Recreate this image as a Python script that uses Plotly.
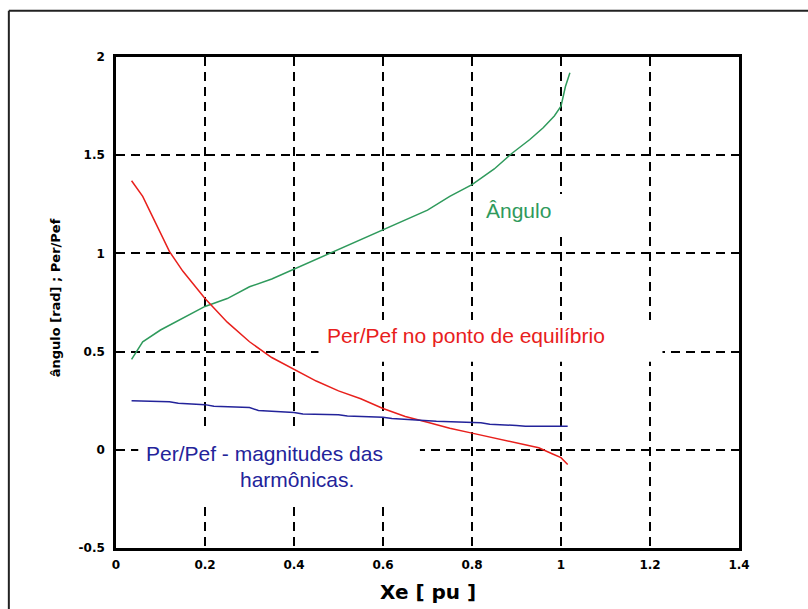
import plotly.graph_objects as go

# Ângulo (rad) versus Xe
angulo_x = [0.035, 0.06, 0.1, 0.15, 0.2, 0.25, 0.3, 0.35, 0.4, 0.45, 0.5, 0.55,
            0.6, 0.65, 0.7, 0.75, 0.8, 0.85, 0.89, 0.93, 0.96, 0.985, 1.0, 1.01, 1.02]
angulo_y = [0.46, 0.55, 0.61, 0.67, 0.73, 0.77, 0.83, 0.87, 0.92, 0.97, 1.02, 1.07,
            1.12, 1.17, 1.22, 1.29, 1.35, 1.43, 1.51, 1.58, 1.64, 1.70, 1.75, 1.85, 1.92]

# Per/Pef no ponto de equilíbrio
equil_x = [0.035, 0.06, 0.09, 0.12, 0.15, 0.2, 0.25, 0.3, 0.35, 0.4, 0.45, 0.5,
           0.55, 0.6, 0.65, 0.7, 0.75, 0.8, 0.85, 0.9, 0.95, 0.98, 1.0, 1.015]
equil_y = [1.37, 1.29, 1.15, 1.01, 0.91, 0.77, 0.65, 0.55, 0.47, 0.41, 0.35, 0.30,
           0.26, 0.21, 0.17, 0.14, 0.11, 0.085, 0.06, 0.035, 0.01, -0.02, -0.04, -0.075]

# Per/Pef - magnitudes das harmônicas
harm_x = [0.035, 0.12, 0.14, 0.2, 0.22, 0.3, 0.32, 0.4, 0.42, 0.5, 0.52, 0.6,
          0.62, 0.7, 0.72, 0.82, 0.84, 0.9, 0.92, 1.015]
harm_y = [0.25, 0.245, 0.237, 0.23, 0.222, 0.215, 0.20, 0.19, 0.182, 0.178, 0.172, 0.166,
          0.16, 0.15, 0.145, 0.138, 0.13, 0.124, 0.12, 0.12]

x_ticks = [0, 0.2, 0.4, 0.6, 0.8, 1, 1.2, 1.4]
x_tick_text = ["0", "0.2", "0.4", "0.6", "0.8", "1", "1.2", "1.4"]
y_ticks = [-0.5, 0, 0.5, 1, 1.5, 2]
y_tick_text = ["-0.5", "0", "0.5", "1", "1.5", "2"]

GREEN = "#2f9a5c"
RED = "#e8201c"
BLUE = "#23239a"

fig = go.Figure()
fig.add_trace(go.Scatter(x=angulo_x, y=angulo_y, mode="lines",
                         line=dict(color=GREEN, width=1.5), name="Ângulo"))
fig.add_trace(go.Scatter(x=equil_x, y=equil_y, mode="lines",
                         line=dict(color=RED, width=1.5),
                         name="Per/Pef no ponto de equilíbrio"))
fig.add_trace(go.Scatter(x=harm_x, y=harm_y, mode="lines",
                         line=dict(color=BLUE, width=1.5),
                         name="Per/Pef - magnitudes das harmônicas"))

tick_font = dict(family="DejaVu Sans", size=12, color="black", weight="bold")
axis_common = dict(
    showline=True, linecolor="black", linewidth=2.5, mirror=True,
    showgrid=True, gridcolor="black", gridwidth=2, griddash="9px,6px",
    zeroline=False, ticks="", tickfont=tick_font,
)

fig.update_xaxes(range=[0, 1.4], tickvals=x_ticks, ticktext=x_tick_text,
                 ticklabelstandoff=4, **axis_common)
fig.update_yaxes(range=[-0.5, 2], tickvals=y_ticks, ticktext=y_tick_text,
                 ticklabelstandoff=6, **axis_common)

# white panels behind the labels, covering the grid but not the curves
masks = [
    (0.814, 1.021, 1.109, 1.302),
    (0.455, 1.228, 0.448, 0.661),
    (0.05, 0.683, -0.29, 0.10),
]
shapes = [
    dict(type="rect", xref="x", yref="y", x0=a, x1=b, y0=c, y1=d,
         fillcolor="white", line=dict(width=0), layer="between")
    for a, b, c, d in masks
]
# outer frame around the figure
shapes.append(dict(type="line", xref="paper", yref="paper",
                   x0=-0.172, x1=1.2, y0=1.094, y1=1.094,
                   line=dict(color="#222222", width=2)))
shapes.append(dict(type="line", xref="paper", yref="paper",
                   x0=-0.172, x1=-0.172, y0=1.094, y1=-0.2,
                   line=dict(color="#222222", width=2)))

label_font = "Liberation Sans"
annotations = [
    dict(x=0.904, y=1.221, xref="x", yref="y", text="Ângulo", showarrow=False,
         font=dict(family=label_font, size=21, color=GREEN)),
    dict(x=0.787, y=0.58, xref="x", yref="y", text="Per/Pef no ponto de equilíbrio",
         showarrow=False, font=dict(family=label_font, size=21, color=RED)),
    dict(x=0.333, y=-0.02, xref="x", yref="y", text="Per/Pef - magnitudes das",
         showarrow=False, font=dict(family=label_font, size=21, color=BLUE)),
    dict(x=0.407, y=-0.153, xref="x", yref="y", text="harmônicas.",
         showarrow=False, font=dict(family=label_font, size=21, color=BLUE)),
    dict(x=0.5, y=-0.0896, xref="paper", yref="paper", text="Xe [ pu ]",
         showarrow=False, yanchor="middle",
         font=dict(family="DejaVu Sans", size=20, color="black", weight="bold")),
    dict(x=-0.112, y=0.51, xref="paper", yref="paper", text="ângulo [rad] ; Per/Pef",
         showarrow=False, textangle=-90,
         font=dict(family="DejaVu Sans", size=13, color="black", weight="bold")),
]

fig.update_layout(
    width=808, height=609,
    margin=dict(l=116, r=69, t=57, b=61),
    paper_bgcolor="white", plot_bgcolor="white",
    showlegend=False,
    shapes=shapes,
    annotations=annotations,
)

fig.write_html("out.html")
